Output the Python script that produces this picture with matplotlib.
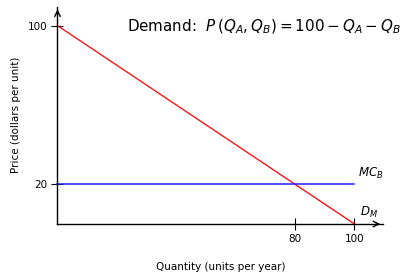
import matplotlib.pyplot as plt

# market demand P = 100 - Q, marginal cost of firm B = 20
demand_q = [0, 100]
demand_p = [100, 0]
mc_q = [0, 100]
mc_p = [20, 20]
x_ticks = [80, 100]
y_ticks = [20, 100]

plt.rcParams['mathtext.fontset'] = 'dejavusans'

fig = plt.figure(figsize=(4.04, 2.76), dpi=100)
ax = fig.add_axes([57.5 / 404, 52 / 276, (383 - 57.5) / 404, (224.4 - 7) / 276])
ax.set_xlim(0, 109.6)
ax.set_ylim(0, 109.6)

ax.plot(demand_q, demand_p, color='red', lw=0.9, clip_on=False)
ax.plot(mc_q, mc_p, color='#2020ff', lw=1.1, clip_on=False)

for s in ['top', 'right']:
    ax.spines[s].set_visible(False)
for s in ['left', 'bottom']:
    ax.spines[s].set_linewidth(1.0)

# arrow heads on the axes
ax.annotate('', xy=(1.0, 0), xytext=(0.97, 0), xycoords='axes fraction',
            arrowprops=dict(arrowstyle='->', lw=1.0, color='black'))
ax.annotate('', xy=(0, 1.0), xytext=(0, 0.95), xycoords='axes fraction',
            arrowprops=dict(arrowstyle='->', lw=1.0, color='black'))

ax.set_xticks(x_ticks)
ax.set_yticks(y_ticks)
ax.tick_params(direction='inout', length=8, width=0.8, labelsize=7.5, pad=3)

ax.set_xlabel('Quantity (units per year)', fontsize=7.5, labelpad=13)
ax.set_ylabel('Price (dollars per unit)', fontsize=7.5, labelpad=5)

ax.text(101.2, 25.4, r'$MC_B$', fontsize=8.5, ha='left', va='center')
ax.text(102, 5.7, r'$D_M$', fontsize=8.5, ha='left', va='center')
ax.text(0.634, 0.908, r'Demand:  $P\,(Q_A, Q_B) = 100 - Q_A - Q_B$',
        transform=ax.transAxes, fontsize=10.9, ha='center', va='center')

fig.savefig('out.png', dpi=100)
